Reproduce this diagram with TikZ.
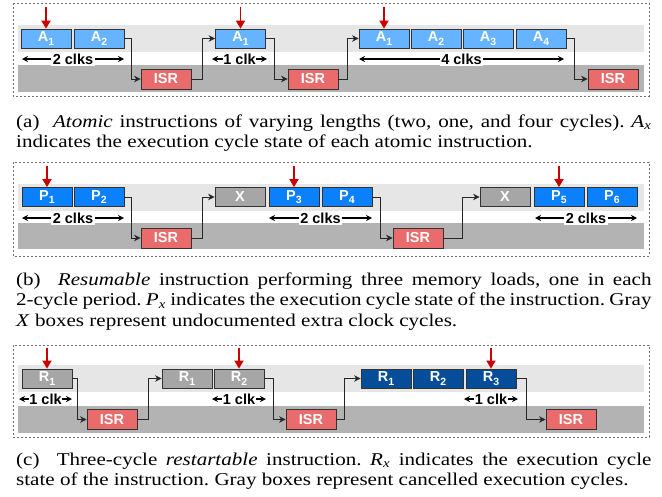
\documentclass[tikz,border=0pt]{standalone}
\usepackage{fontspec}
\setmainfont{Liberation Serif}
\newfontfamily\arialfont{Liberation Sans}
\usetikzlibrary{arrows.meta}

\definecolor{bandlight}{HTML}{E6E6E6}
\definecolor{banddark}{HTML}{B3B3B3}
\definecolor{ablue}{HTML}{66B3FF}
\definecolor{pblue}{HTML}{0A80FA}
\definecolor{rblue}{HTML}{064D99}
\definecolor{cancel}{HTML}{A6A6A6}
\definecolor{isrred}{HTML}{EA6B6B}
\definecolor{irqred}{HTML}{CC0000}
\definecolor{boxline}{HTML}{333333}
\definecolor{framegray}{HTML}{707070}

% subscript inside a cycle box
\newcommand{\bsub}[1]{\raisebox{-0.45ex}{\fontsize{10.5}{10.5}\selectfont #1}}
% italic subscript in the captions
\newcommand{\csub}[1]{\textsubscript{\textit{#1}}}
% caption block: horizontally widened Times paragraph
\newcommand{\capblock}[1]{\scalebox{1.17}[1]{\parbox[t]{543pt}{\fontsize{18}{20.8}\selectfont\frenchspacing\parindent=0pt #1}}}

\tikzset{
  bandl/.style={fill=bandlight, draw=none},
  bandd/.style={fill=banddark, draw=none},
  cyc/.style={draw=boxline, line width=0.8pt, minimum width=50pt, minimum height=19pt,
              inner sep=0pt, text=white, font=\arialfont\bfseries\fontsize{14.5}{14.5}\selectfont},
  abox/.style={cyc, fill=ablue},
  pbox/.style={cyc, fill=pblue},
  rbox/.style={cyc, fill=rblue},
  gbox/.style={cyc, fill=cancel},
  isr/.style={cyc, fill=isrred, minimum height=20pt},
  conn/.style={draw=black!85, line width=0.8pt, -{Stealth[length=6.5pt,width=6.5pt]}},
  dim/.style={line width=1.2pt, {Stealth[length=6pt,width=6pt]}-{Stealth[length=6pt,width=6pt]}},
  dimlbl/.style={fill=white, inner sep=1.5pt, font=\arialfont\bfseries\fontsize{14.5}{14.5}\selectfont},
  irq/.style={draw=irqred, line width=1.8pt, -{Triangle[length=8pt,width=9pt]}},
  panel/.style={draw=framegray, line width=0.8pt, dash pattern=on 2pt off 2pt},
  caption/.style={anchor=base west, inner sep=0pt}
}

\begin{document}
\begin{tikzpicture}[x=1pt, y=-1pt]
\useasboundingbox (0,0) rectangle (662,496);

% ---------------- panel (a): atomic ----------------
\draw[panel] (13,3) rectangle (649,96);
\fill[bandl] (18,25) rectangle (644,52);
\fill[bandd] (18,65) rectangle (644,92);

\node[abox] (a1)  at (46,38.5)  {A\bsub{1}};
\node[abox] (a2)  at (99,38.5)  {A\bsub{2}};
\node[isr]  (ia)  at (166,79)   {ISR};
\node[abox] (b1)  at (240.5,38.5) {A\bsub{1}};
\node[isr]  (ib)  at (313,79)   {ISR};
\node[abox] (c1)  at (384,38.5) {A\bsub{1}};
\node[abox] (c2)  at (436,38.5) {A\bsub{2}};
\node[abox] (c3)  at (488,38.5) {A\bsub{3}};
\node[abox] (c4)  at (541,38.5) {A\bsub{4}};
\node[isr]  (ic)  at (613,79)   {ISR};

\draw[conn] (a2.east) -- ++(7,0)  |- (ia.west);
\draw[conn] (ia.east) -- ++(11,0) |- (b1.west);
\draw[conn] (b1.east) -- ++(8,0)  |- (ib.west);
\draw[conn] (ib.east) -- ++(9,0)  |- (c1.west);
\draw[conn] (c4.east) -- ++(8,0)  |- (ic.west);

\draw[irq] (a1.north) +(0,-22) -- (a1.north);
\draw[irq] (b1.north) +(0,-22) -- (b1.north);
\draw[irq] (c1.north) +(0,-22) -- (c1.north);

\coordinate (da1) at (22,59);  \coordinate (da2) at (124,59);
\coordinate (db1) at (212,59); \coordinate (db2) at (267,59);
\coordinate (dc1) at (359,59); \coordinate (dc2) at (564,59);
\draw[dim] (da1) -- node[dimlbl] {2 clks} (da2);
\draw[dim] (db1) -- node[dimlbl, inner sep=0.5pt] {1 clk} (db2);
\draw[dim] (dc1) -- node[dimlbl] {4 clks} (dc2);

\node[caption] (capa) at (16,127) {\capblock{(a)~~\textit{Atomic} instructions of varying lengths (two, one, and four cycles). \textit{A}\csub{x}\linebreak
indicates the execution cycle state of each atomic instruction.}};

% ---------------- panel (b): resumable ----------------
\draw[panel] (13,162) rectangle (649,256);
\fill[bandl] (18,184) rectangle (644,211);
\fill[bandd] (18,223) rectangle (644,249);

\node[pbox] (p1)  at (47,197)  {P\bsub{1}};
\node[pbox] (p2)  at (99,197)  {P\bsub{2}};
\node[isr]  (pia) at (166,238) {ISR};
\node[gbox] (x1)  at (240,197) {X};
\node[pbox] (p3)  at (294,197) {P\bsub{3}};
\node[pbox] (p4)  at (347,197) {P\bsub{4}};
\node[isr]  (pib) at (418,238) {ISR};
\node[gbox] (x2)  at (505,197) {X};
\node[pbox] (p5)  at (559,197) {P\bsub{5}};
\node[pbox] (p6)  at (612,197) {P\bsub{6}};

\draw[conn] (p2.east)  -- ++(7,0)  |- (pia.west);
\draw[conn] (pia.east) -- ++(11,0) |- (x1.west);
\draw[conn] (p4.east)  -- ++(8,0)  |- (pib.west);
\draw[conn] (pib.east) -- ++(19,0) |- (x2.west);

\draw[irq] (p1.north) +(0,-21) -- (p1.north);
\draw[irq] (p3.north) +(0,-21) -- (p3.north);
\draw[irq] (p5.north) +(0,-21) -- (p5.north);

\coordinate (dp1) at (22,218);  \coordinate (dp2) at (124,218);
\coordinate (dq1) at (269,218); \coordinate (dq2) at (372,218);
\coordinate (dr1) at (535,218); \coordinate (dr2) at (637,218);
\draw[dim] (dp1) -- node[dimlbl] {2 clks} (dp2);
\draw[dim] (dq1) -- node[dimlbl] {2 clks} (dq2);
\draw[dim] (dr1) -- node[dimlbl] {2 clks} (dr2);

\node[caption] (capb) at (16,285) {\capblock{(b)~~\textit{Resumable} instruction performing three memory loads, one in each\linebreak
2-cycle period. \textit{P}\csub{x} indicates the execution cycle state of the instruction. Gray\linebreak
\textit{X} boxes represent undocumented extra clock cycles.}};

% ---------------- panel (c): restartable ----------------
\draw[panel] (13,345) rectangle (649,437);
\fill[bandl] (18,365) rectangle (644,392);
\fill[bandd] (18,406) rectangle (644,433);

\node[gbox] (r1)  at (47,378.5)  {R\bsub{1}};
\node[isr]  (ria) at (112,419.5) {ISR};
\node[gbox] (s1)  at (187,378.5) {R\bsub{1}};
\node[gbox] (s2)  at (239,378.5) {R\bsub{2}};
\node[isr]  (rib) at (311,419.5) {ISR};
\node[rbox] (t1)  at (386,378.5) {R\bsub{1}};
\node[rbox] (t2)  at (438,378.5) {R\bsub{2}};
\node[rbox] (t3)  at (491,378.5) {R\bsub{3}};
\node[isr]  (ric) at (571,419.5) {ISR};

\draw[conn] (r1.east)  -- ++(5,0)  |- (ria.west);
\draw[conn] (ria.east) -- ++(11,0) |- (s1.west);
\draw[conn] (s2.east)  -- ++(9,0)  |- (rib.west);
\draw[conn] (rib.east) -- ++(8,0)  |- (t1.west);
\draw[conn] (t3.east)  -- ++(10,0) |- (ric.west);

\draw[irq] (r1.north) +(0,-21) -- (r1.north);
\draw[irq] (s2.north) +(0,-21) -- (s2.north);
\draw[irq] (t3.north) +(0,-21) -- (t3.north);

\coordinate (dt1) at (19,399);  \coordinate (dt2) at (72,399);
\coordinate (du1) at (212,399); \coordinate (du2) at (266,399);
\coordinate (dv1) at (464,399); \coordinate (dv2) at (518,399);
\draw[dim] (dt1) -- node[dimlbl, inner sep=0.5pt] {1 clk} (dt2);
\draw[dim] (du1) -- node[dimlbl, inner sep=0.5pt] {1 clk} (du2);
\draw[dim] (dv1) -- node[dimlbl, inner sep=0.5pt] {1 clk} (dv2);

\node[caption] (capc) at (16,465) {\capblock{(c)~~Three-cycle \textit{restartable} instruction. \textit{R}\csub{x} indicates the execution cycle\linebreak
state of the instruction. Gray boxes represent cancelled execution cycles.}};
\end{tikzpicture}
\end{document}
